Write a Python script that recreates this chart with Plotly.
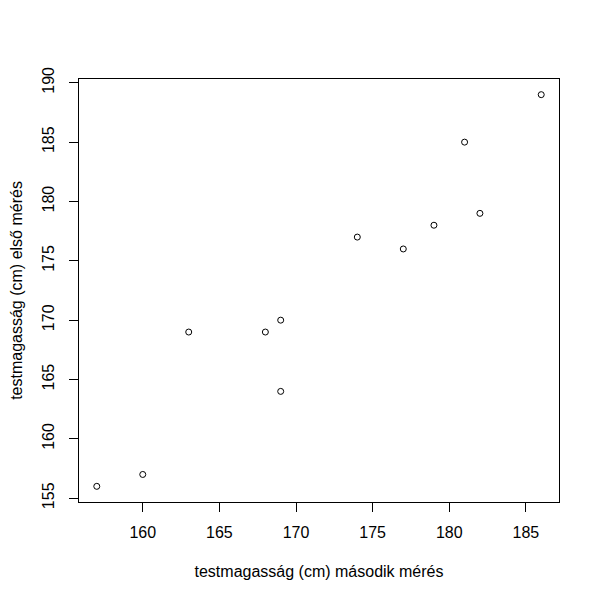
import plotly.graph_objects as go

masodik = [157, 160, 163, 168, 169, 169, 174, 177, 179, 181, 182, 186]
elso = [156, 157, 169, 169, 170, 164, 177, 176, 178, 185, 179, 189]
x_ticks = [160, 165, 170, 175, 180, 185]
y_ticks = [155, 160, 165, 170, 175, 180, 185, 190]

def padded(vals):
    lo, hi = min(vals), max(vals)
    d = (hi - lo) * 0.04
    return [lo - d, hi + d]

fig = go.Figure(go.Scatter(
    x=masodik, y=elso, mode="markers",
    marker=dict(symbol="circle-open", size=6, color="black", line=dict(width=1, color="black")),
))

font = dict(family="Liberation Sans, Arial, sans-serif", size=16, color="black")
fig.update_layout(
    width=600, height=600,
    margin=dict(l=71, r=49, t=71, b=106),
    paper_bgcolor="white", plot_bgcolor="white",
    font=font, showlegend=False,
)
fig.update_xaxes(
    range=padded(masodik), tickvals=x_ticks, ticktext=[str(v) for v in x_ticks],
    showgrid=False, zeroline=False, showline=True, linecolor="black", linewidth=1, mirror=True,
    ticks="outside", ticklen=9, tickcolor="black", tickwidth=1, ticklabelstandoff=7,
    automargin=False,
    title=dict(text="testmagasság (cm) második mérés", standoff=25, font=font),
)
fig.update_yaxes(
    range=padded(elso), tickvals=y_ticks, ticktext=[str(v) for v in y_ticks],
    showgrid=False, zeroline=False, showline=True, linecolor="black", linewidth=1, mirror=True,
    ticks="outside", ticklen=9, tickcolor="black", tickwidth=1, tickangle=-90, ticklabelstandoff=9,
    automargin=False,
    title=dict(text="testmagasság (cm) első mérés", standoff=14, font=font),
)
fig.write_html("out.html")
